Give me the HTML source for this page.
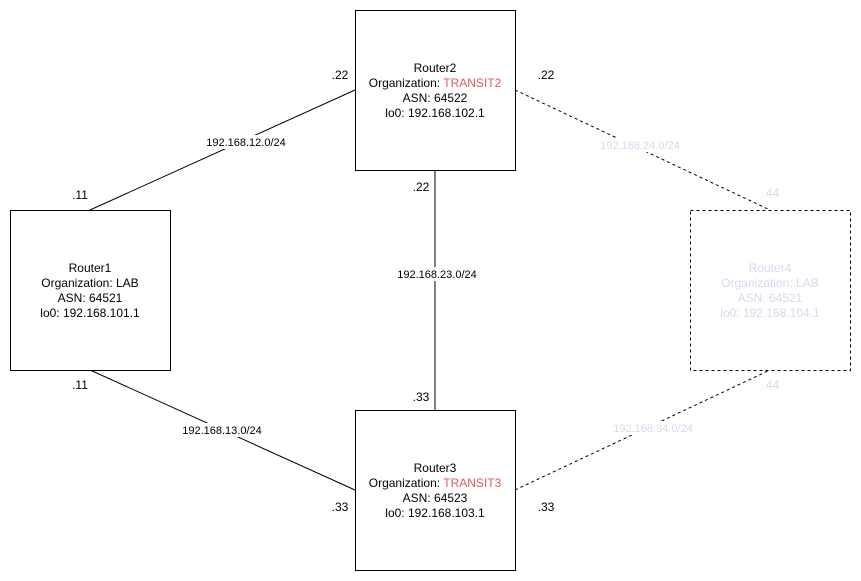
<!DOCTYPE html>
<html><head><meta charset="utf-8"><style>
html,body{margin:0;padding:0;background:#fff;}
svg{display:block;font-family:"Liberation Sans",Helvetica,Arial,sans-serif;}
</style></head><body>
<svg width="861" height="581" viewBox="0 0 861 581" xmlns="http://www.w3.org/2000/svg">
<g stroke="#000" stroke-width="1" fill="none">
<line x1="90" y1="210" x2="355" y2="90"/>
<line x1="90" y1="370" x2="355" y2="490"/>
<line x1="435" y1="170" x2="435" y2="410"/>
<line x1="515" y1="90" x2="770" y2="210" stroke-dasharray="3,3"/>
<line x1="515" y1="490" x2="770" y2="370" stroke-dasharray="3,3"/>
</g>
<g stroke="#000" fill="#fff">
<rect x="355.5" y="10.5" width="160" height="160"/>
<rect x="10.5" y="210.5" width="160" height="160"/>
<rect x="355.5" y="410.5" width="160" height="160"/>
<rect x="690.5" y="210.5" width="160" height="160" stroke-dasharray="3,3"/>
</g>
<g font-size="11" text-anchor="middle">
<rect x="198" y="135" width="96" height="14" fill="#fff"/>
<text x="246" y="146">192.168.12.0/24</text>
<rect x="393" y="267" width="88" height="14" fill="#fff"/>
<text x="437" y="278">192.168.23.0/24</text>
<rect x="176" y="423" width="92" height="14" fill="#fff"/>
<text x="222" y="434">192.168.13.0/24</text>
<rect x="594" y="138" width="92" height="14" fill="#fff"/>
<text x="640" y="149" fill="#e2d4ea">192.168.24.0/24</text>
<rect x="607" y="421" width="92" height="14" fill="#fff"/>
<text x="653" y="432" fill="#e2d4ea">192.168.34.0/24</text>
</g>
<g font-size="12" text-anchor="middle">
<text x="340" y="79">.22</text>
<text x="546" y="79">.22</text>
<text x="80" y="199">.11</text>
<text x="80" y="389">.11</text>
<text x="421" y="191">.22</text>
<text x="421" y="401">.33</text>
<text x="340" y="511">.33</text>
<text x="546" y="511">.33</text>
<text x="771" y="197" fill="#e2d4ea">.44</text>
<text x="771" y="389" fill="#e2d4ea">.44</text>

<text x="435" y="72">Router2</text>
<text x="435" y="87">Organization: <tspan fill="#e05a5a">TRANSIT2</tspan></text>
<text x="435" y="102">ASN: 64522</text>
<text x="435" y="117">lo0: 192.168.102.1</text>

<text x="90" y="272">Router1</text>
<text x="90" y="287">Organization: LAB</text>
<text x="90" y="302">ASN: 64521</text>
<text x="90" y="317">lo0: 192.168.101.1</text>

<text x="435" y="472">Router3</text>
<text x="435" y="487">Organization: <tspan fill="#e05a5a">TRANSIT3</tspan></text>
<text x="435" y="502">ASN: 64523</text>
<text x="435" y="517">lo0: 192.168.103.1</text>

<g fill="#e2d4ea">
<text x="770" y="272">Router4</text>
<text x="770" y="287">Organization: LAB</text>
<text x="770" y="302">ASN: 64521</text>
<text x="770" y="317">lo0: 192.168.104.1</text>
</g>
</g>
</svg>
</body></html>
